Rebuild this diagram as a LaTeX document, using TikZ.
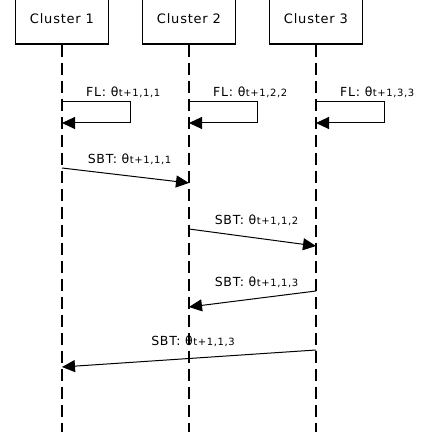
\documentclass[tikz,border=0pt]{standalone}
\usepackage{fontspec}
\setmainfont{DejaVu Sans}[LetterSpace=6]
\usetikzlibrary{positioning,arrows.meta,calc}

\newcommand{\thsub}[1]{θ\kern0.5pt{\fontsize{10}{12}\selectfont #1}}

\begin{document}
\begin{tikzpicture}[
    x=1pt, y=1pt,
    cluster/.style={draw, line width=1.4pt, minimum width=93pt, minimum height=50pt, inner sep=0pt, font=\fontsize{13}{15}\selectfont},
    life/.style={line width=1.2pt, dash pattern=on 12pt off 6pt},
    msg/.style={-{Triangle[length=13pt,width=12pt]}, line width=1pt},
    lbl/.style={font=\fontsize{12.5}{15}\selectfont, inner sep=0pt}
]
\fill[white] (0,0) rectangle (426,432);

\node[cluster] (c1) at (62,413) {Cluster 1};
\node[cluster] (c2) at (189,413) {Cluster 2};
\node[cluster] (c3) at (316,413) {Cluster 3};

\coordinate (bot) at (0,0);
\draw[life] (c1.south) -- (c1.south |- bot);
\draw[life] (c2.south) -- (c2.south |- bot);
\draw[life] (c3.south) -- (c3.south |- bot);

% local training
\coordinate (f1a) at (62,330);  \coordinate (f1b) at (62,309);
\coordinate (f2a) at (189,330); \coordinate (f2b) at (189,309);
\coordinate (f3a) at (316,330); \coordinate (f3b) at (316,309);
\draw[msg] (f1a) -- ++(68,0) |- (f1b);
\draw[msg] (f2a) -- ++(68,0) |- (f2b);
\draw[msg] (f3a) -- ++(68,0) |- (f3b);
\node[lbl, anchor=base west] (fl1) at (86,335) {FL: \thsub{t+1,1,1}};
\node[lbl, anchor=base west] (fl2) at (213,335) {FL: \thsub{t+1,2,2}};
\node[lbl, anchor=base west] (fl3) at (340,335) {FL: \thsub{t+1,3,3}};

% transfers
\coordinate (s1a) at (62,264);  \coordinate (s1b) at (189,249);
\coordinate (s2a) at (189,203); \coordinate (s2b) at (316,186);
\coordinate (s3a) at (316,141); \coordinate (s3b) at (189,125);
\coordinate (s4a) at (316,82);  \coordinate (s4b) at (62,65);
\draw[msg] (s1a) -- node[lbl, anchor=base, xshift=4pt, yshift=11.5pt] (t1) {SBT: \thsub{t+1,1,1}} (s1b);
\draw[msg] (s2a) -- node[lbl, anchor=base, xshift=4pt, yshift=12.5pt] (t2) {SBT: \thsub{t+1,1,2}} (s2b);
\draw[msg] (s3a) -- node[lbl, anchor=base, xshift=4pt, yshift=12pt] (t3) {SBT: \thsub{t+1,1,3}} (s3b);
\draw[msg] (s4a) -- node[lbl, anchor=base, xshift=4pt, yshift=12.5pt] (t4) {SBT: \thsub{t+1,1,3}} (s4b);
\pgfresetboundingbox
\useasboundingbox (0,0) rectangle (426,432);
\end{tikzpicture}
\end{document}
